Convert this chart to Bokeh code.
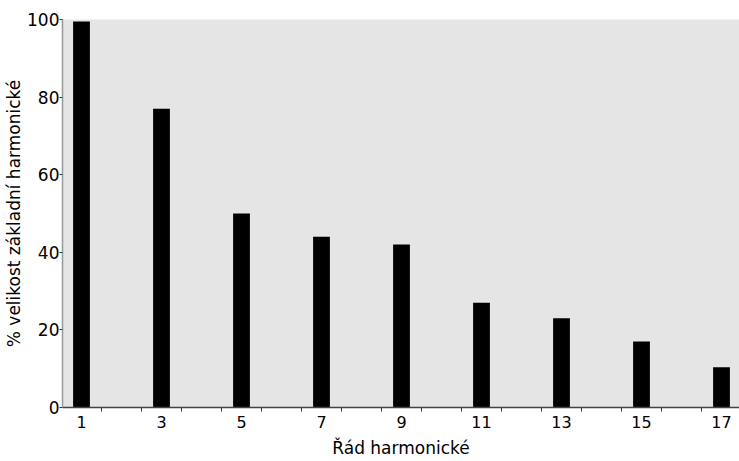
from bokeh.plotting import figure
from bokeh.models import FixedTicker, Range1d
from bokeh.embed import file_html
from bokeh.resources import INLINE

harmonics = [1, 3, 5, 7, 9, 11, 13, 15, 17]
values = [99.5, 77, 50, 44, 42, 27, 23, 17, 10.4]
y_ticks = [0, 20, 40, 60, 80, 100]
x_minor = [1.5 + i for i in range(16)]

FONT = "DejaVu Sans"

p = figure(width=739, height=461, output_backend="svg", toolbar_location=None,
           x_range=Range1d(0.525, 17.45), y_range=Range1d(0, 100),
           min_border_left=62, min_border_right=0, min_border_top=19, min_border_bottom=54)
p.background_fill_color = "#e5e5e5"
p.border_fill_color = "white"
p.outline_line_color = None
p.xgrid.grid_line_color = None
p.ygrid.grid_line_color = None

p.vbar(x=harmonics, top=values, width=0.42, bottom=0, fill_color="black", line_color=None)

xa = p.xaxis[0]
xa.ticker = FixedTicker(ticks=harmonics, minor_ticks=x_minor)
xa.major_tick_out = 0
xa.major_tick_in = 0
xa.minor_tick_out = 4
xa.minor_tick_in = 0
xa.minor_tick_line_color = "#333333"
xa.axis_line_color = "#444444"
xa.axis_line_width = 1.5
xa.major_label_text_font = FONT
xa.major_label_text_font_size = "16px"
xa.major_label_text_color = "black"
xa.major_label_standoff = 4
xa.axis_label = "Řád harmonické"
xa.axis_label_text_font = FONT
xa.axis_label_text_font_style = "normal"
xa.axis_label_text_font_size = "17px"
xa.axis_label_text_color = "black"
xa.axis_label_standoff = 7

ya = p.yaxis[0]
ya.ticker = FixedTicker(ticks=y_ticks, minor_ticks=[])
ya.major_tick_out = 3
ya.major_tick_in = 0
ya.major_tick_line_color = "#333333"
ya.axis_line_color = "#999999"
ya.axis_line_width = 1.5
ya.major_label_text_font = FONT
ya.major_label_text_font_size = "17px"
ya.major_label_text_color = "black"
ya.major_label_standoff = 0
ya.axis_label = "% velikost základní harmonické"
ya.axis_label_text_font = FONT
ya.axis_label_text_font_style = "normal"
ya.axis_label_text_font_size = "17px"
ya.axis_label_text_color = "black"
ya.axis_label_standoff = 0

open("out.html", "w").write(file_html(p, INLINE))
